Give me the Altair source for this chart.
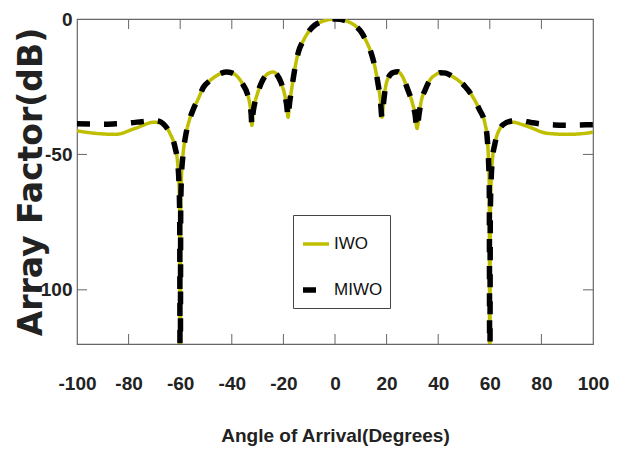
import altair as alt
import pandas as pd

# ---- data ----
iwo_angle = [-100, -93, -85, -77.5, -70, -66.7, -64, -62, -61, -60.5, -60.2, -60, -59.8, -59.5, -59, -58,
             -56.5, -55, -53, -51, -48.5, -46.5, -44, -42, -40, -37.6, -35.5, -34, -33, -32.5, -32.2,
             -31.8, -31.2, -30.2, -28, -26, -24, -22.5, -21, -19.5, -18.7, -18.2, -17.6, -16.7, -15.5,
             -14.3, -12, -10, -8, -6, -4, -2, 0,
             2, 4, 6, 8, 10, 12, 14, 15.5, 16.7, 17.6, 18.2, 18.8, 19.4, 20.5, 22.5, 24.4, 26, 28.3,
             30, 31, 31.8, 32.6, 33.5, 34.9, 36.8, 38.8, 41, 43, 45.5, 47.7, 50.5, 53.5, 56, 58.1, 59,
             59.5, 59.8, 60, 60.2, 60.5, 61, 62, 64, 66.5, 69, 72, 75.6, 82.2, 89.9, 95, 100]
iwo_db = [-41.3, -42.2, -42.6, -40.4, -38.1, -38.6, -42.2, -47.4, -53, -60, -72, -160, -70, -58, -51, -43.7,
          -37.5, -33.5, -29.5, -25.2, -22.8, -21.3, -20.0, -19.6, -19.9, -21.5, -24.5, -27.5, -31.5, -35, -39.3,
          -35, -31.5, -28, -22.5, -20.2, -19.6, -20.6, -23.3, -28, -32, -36.3, -31, -25.2, -18,
          -12.6, -7.5, -4.4, -2.4, -1.3, -0.6, -0.15, 0,
          -0.15, -0.6, -1.4, -2.6, -4.6, -8, -12.5, -17.8, -24, -30, -36.3, -31, -26.3, -22, -19.8, -19.5, -21, -26.3,
          -31, -35, -40.4, -35, -30, -26.3, -22.5, -20.7, -19.8, -20, -21.2, -22.6, -25, -28.9, -33.5, -38.5, -44,
          -52, -62, -160, -72, -60, -52, -46, -40.4, -38.5, -38.1, -38.8, -40, -42.2, -42.6, -42.4, -41.8]

miwo_left_angle = [-100, -95, -90, -85, -80, -75, -71, -68]
miwo_left_db = [-38.7, -38.8, -38.9, -38.7, -38.4, -37.9, -37.5, -37.8]
miwo_right_angle = [66.5, 69, 72, 76, 80, 85, 90, 95, 100]
miwo_right_db = [-38.2, -37.6, -37.5, -38.2, -38.8, -39.1, -39.2, -39.1, -39.0]

series_names = ["IWO", "MIWO"]
series_colors = ["#bfbf00", "#000000"]
x_ticks = [-100, -80, -60, -40, -20, 0, 20, 40, 60, 80, 100]
y_ticks = [-100, -50, 0]

# MIWO coincides with IWO between the outer shoulders
mid = [(a, d) for a, d in zip(iwo_angle, iwo_db) if -66.7 <= a <= 64]
miwo_angle = miwo_left_angle + [a for a, _ in mid] + miwo_right_angle
miwo_db = miwo_left_db + [d for _, d in mid] + miwo_right_db

df = pd.concat([
    pd.DataFrame({"angle": iwo_angle, "db": iwo_db, "series": "IWO", "o": range(len(iwo_angle))}),
    pd.DataFrame({"angle": miwo_angle, "db": miwo_db, "series": "MIWO", "o": range(len(miwo_angle))}),
])

W, H = 516, 325
NARROW = "Liberation Sans Narrow, Liberation Sans, Arial, sans-serif"
FRAME = "#666666"
HYPHEN = "replace(datum.label, '\u2212', '-')"

xs = alt.Scale(domain=[-100, 100], nice=False, zero=False)
ys = alt.Scale(domain=[-120, 0], nice=False, zero=False)

sym_dash = alt.ExprRef(expr="datum.value === 'MIWO' ? [15, 40] : [1, 0]")

lines = alt.Chart(df).mark_line(clip=True, interpolate="monotone", strokeCap="butt").encode(
    x=alt.X("angle:Q", scale=xs, axis=alt.Axis(
        values=x_ticks, title="Angle of Arrival(Degrees)", labelFontSize=19, labelFont=NARROW,
        labelFontWeight="bold", labelColor="#222", labelPadding=39, labelBaseline="middle",
        labelOverlap=False, labelFlush=False, labelExpr=HYPHEN,
        titleFont=NARROW, titleFontSize=19, titleFontWeight="bold", titleColor="#222",
        titleY=91, titleBaseline="middle")),
    y=alt.Y("db:Q", scale=ys, axis=alt.Axis(
        values=y_ticks, title="Array Factor(dB)", labelFontSize=19, labelFont=NARROW,
        labelFontWeight="bold", labelColor="#222", labelPadding=5, labelExpr=HYPHEN,
        labelOverlap=False, labelFlush=False,
        titleFont="DejaVu Sans", titleFontSize=33, titleFontWeight="bold", titleColor="#222",
        titleX=-46, titleY=H / 2, titleAngle=270, titleAlign="center", titleBaseline="middle")),
    color=alt.Color("series:N", scale=alt.Scale(domain=series_names, range=series_colors),
                    legend=alt.Legend(title=" ", symbolDash=sym_dash)),
    strokeDash=alt.StrokeDash("series:N", scale=alt.Scale(domain=series_names, range=[[1, 0], [13, 14]]),
                              legend=None),
    strokeWidth=alt.StrokeWidth("series:N", scale=alt.Scale(domain=series_names, range=[3.5, 5.5]),
                                legend=alt.Legend(title=" ", symbolDash=sym_dash)),
    order="o:Q",
)

xt = pd.DataFrame({"t": x_ticks[1:-1]})
yt = pd.DataFrame({"t": [v for v in y_ticks if v not in (-120, 0)]})

tick_bottom = alt.Chart(xt).mark_rule(color=FRAME, strokeWidth=1).encode(
    x=alt.X("t:Q", scale=xs), y=alt.value(H), y2=alt.value(H - 10))
tick_top = alt.Chart(xt).mark_rule(color=FRAME, strokeWidth=1).encode(
    x=alt.X("t:Q", scale=xs), y=alt.value(0), y2=alt.value(10))
tick_left = alt.Chart(yt).mark_rule(color=FRAME, strokeWidth=1).encode(
    y=alt.Y("t:Q", scale=ys), x=alt.value(0), x2=alt.value(10))
tick_right = alt.Chart(yt).mark_rule(color=FRAME, strokeWidth=1).encode(
    y=alt.Y("t:Q", scale=ys), x=alt.value(W), x2=alt.value(W - 10))

chart = alt.layer(tick_bottom, tick_top, tick_left, tick_right, lines).properties(
    width=W, height=H,
    autosize=alt.AutoSizeParams(type="none"),
    padding={"left": 69, "top": 11, "right": 16, "bottom": 106},
).configure_view(stroke=FRAME, strokeWidth=1.2).configure_axis(
    grid=False, domain=False, ticks=False, tickSize=0
).configure_legend(
    orient="none", legendX=216, legendY=196, strokeColor="#444", fillColor="white",
    padding=7, titleFontSize=7, titlePadding=0, symbolType="stroke", symbolSize=676,
    labelFont=NARROW, labelFontSize=17,
    labelColor="#111", rowPadding=22, labelOffset=2, cornerRadius=0,
)

chart.save("out.html", embed_options={"renderer": "svg", "actions": False})
